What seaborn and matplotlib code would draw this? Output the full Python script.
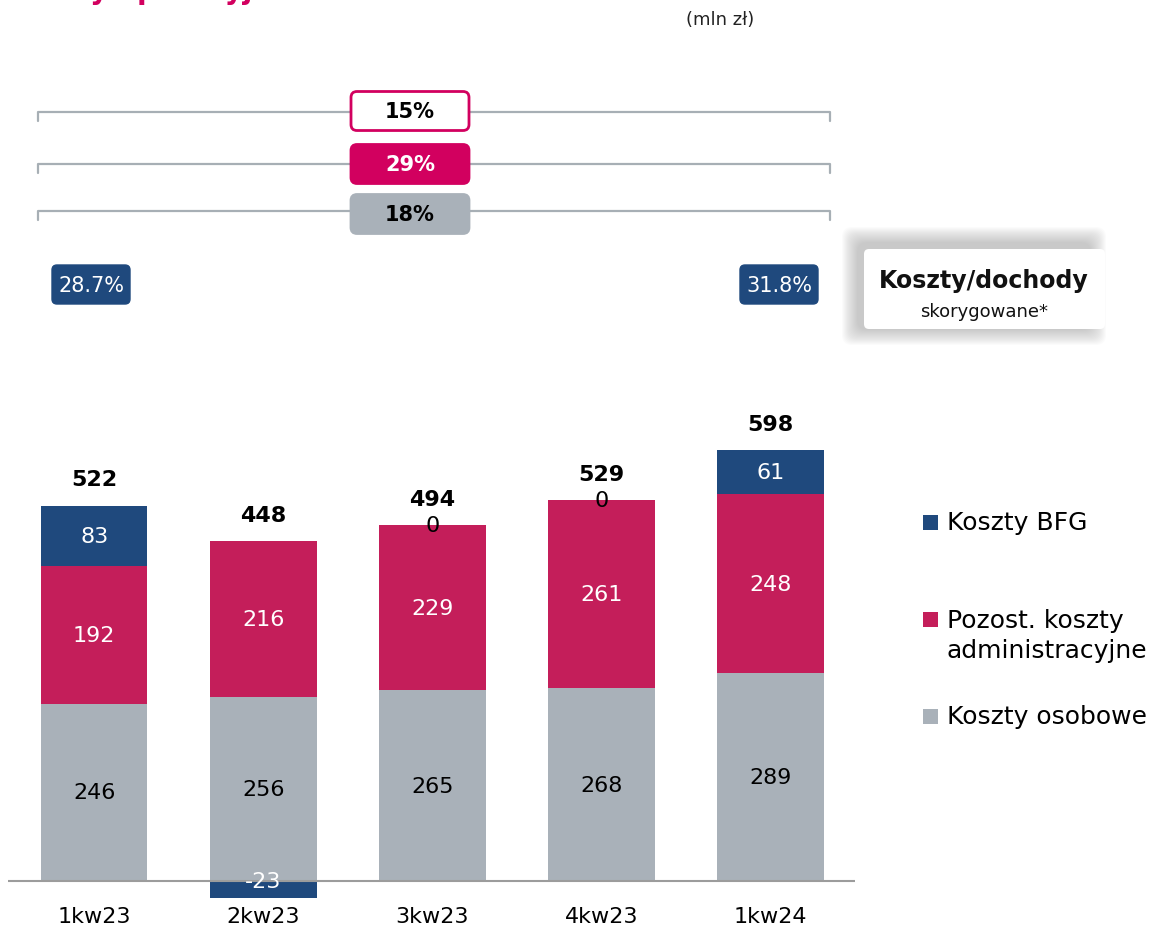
import matplotlib
matplotlib.use("Agg")
import matplotlib.pyplot as plt
import seaborn as sns
import pandas as pd
from matplotlib.patches import FancyBboxPatch, Rectangle

# data (mln zł)
quarters = ["1kw23", "2kw23", "3kw23", "4kw23", "1kw24"]
osobowe = [246, 256, 265, 268, 289]
admin = [192, 216, 229, 261, 248]
bfg = [83, -23, 0, 0, 61]
totals = [522, 448, 494, 529, 598]

dynamics = ["15%", "29%", "18%"]
cost_income = ["28.7%", "31.8%"]
legend_labels = ["Koszty BFG", "Pozost. koszty\nadministracyjne", "Koszty osobowe"]

BLUE = "#1f497d"
PINK = "#c41e5a"
GRAY = "#a9b1b9"
MAGENTA = "#d2005f"
LINE = "#a7afb5"

sns.set_theme(style="white")
plt.rcParams["font.family"] = ["DejaVu Sans"]

W, H = 1163, 928
fig = plt.figure(figsize=(W / 100, H / 100), dpi=100)
ax = fig.add_axes([8 / W, 28 / H, 847 / W, 486 / H])

df = pd.DataFrame({"kwartal": quarters, "osobowe": osobowe, "admin": admin, "bfg": bfg})
df["admin_bottom"] = df["osobowe"]
df["bfg_bottom"] = [o + a if b >= 0 else 0 for o, a, b in zip(osobowe, admin, bfg)]

common = dict(x="kwartal", width=0.63, saturation=1, errorbar=None, linewidth=0, ax=ax)
sns.barplot(data=df, y="osobowe", color=GRAY, **common)
sns.barplot(data=df, y="admin", bottom=df["admin_bottom"], color=PINK, **common)
sns.barplot(data=df, y="bfg", bottom=df["bfg_bottom"], color=BLUE, **common)

ax.set_xlim(-0.51, 4.50)
ax.set_ylim(-25, 650)
ax.axhline(0, color="#9c9c9c", lw=1.5, zorder=4)
for s in ax.spines.values():
    s.set_visible(False)
ax.set_yticks([])
ax.set_xlabel("")
ax.set_ylabel("")
ax.tick_params(axis="x", length=0, pad=5, labelsize=16, colors="black")

# segment labels
for i in range(len(quarters)):
    ax.text(i, osobowe[i] / 2, str(osobowe[i]), ha="center", va="center",
            fontsize=16, color="black", zorder=5)
    ax.text(i, osobowe[i] + admin[i] / 2, str(admin[i]), ha="center", va="center",
            fontsize=16, color="white", zorder=5)
    yb = df["bfg_bottom"][i] + bfg[i] / 2
    if bfg[i] < 0:
        yb = 0
    ax.text(i, yb, str(bfg[i]), ha="center", va="center", fontsize=16,
            color="black" if bfg[i] == 0 else "white", zorder=5)
    top = osobowe[i] + admin[i] + max(bfg[i], 0)
    ax.annotate(str(totals[i]), (i, top), xytext=(0, 19), textcoords="offset points",
                ha="center", va="center", fontsize=16, fontweight="bold", color="black")

# overlay in pixel coordinates for the header decorations
ov = fig.add_axes([0, 0, 1, 1], zorder=-1)
ov.set_xlim(0, W)
ov.set_ylim(H, 0)
ov.set_axis_off()

ov.text(4, -1, "Koszty operacyjne", fontsize=20, fontweight="bold", color=MAGENTA,
        ha="left", va="baseline")
ov.text(720, 20, "(mln zł)", fontsize=13, color="#222222", ha="center", va="center")

# dynamics brackets
box_styles = [("white", MAGENTA, "black"), (MAGENTA, MAGENTA, "white"), (GRAY, GRAY, "black")]
for txt, yl, yc, (fc, ec, tc) in zip(dynamics, [113, 165, 212], [112, 165, 215], box_styles):
    ov.plot([38, 38, 830, 830], [yl + 9, yl, yl, yl + 9], color=LINE, lw=1.6)
    ov.add_patch(FancyBboxPatch((351, yc - 19.5), 118, 39,
                                boxstyle="round,pad=0,rounding_size=6",
                                fc=fc, ec=ec, lw=2, zorder=3))
    ov.text(410, yc, txt, ha="center", va="center", fontsize=15, fontweight="bold",
            color=tc, zorder=4)

# cost/income ratio
for txt, x0 in zip(cost_income, [52, 740]):
    ov.add_patch(FancyBboxPatch((x0, 266), 78, 39, boxstyle="round,pad=0,rounding_size=5",
                                fc=BLUE, ec=BLUE, lw=1, zorder=3))
    ov.text(x0 + 39, 286, txt, ha="center", va="center", fontsize=15, color="white", zorder=4)

# soft shadow towards the upper left
for k in range(16, 0, -1):
    ov.add_patch(FancyBboxPatch((858 - k, 244 - k), 232 + 2 * k, 86 + 2 * k,
                                boxstyle="round,pad=0,rounding_size=10",
                                fc="#8a8a8a", ec="none", alpha=0.03, zorder=2))
ov.add_patch(FancyBboxPatch((864, 250), 241, 80, boxstyle="round,pad=0,rounding_size=5",
                            fc="white", ec="none", zorder=3))
ov.text(984, 281, "Koszty/dochody", ha="center", va="center", fontsize=17,
        fontweight="bold", color="#111111", zorder=4)
ov.text(984, 312, "skorygowane*", ha="center", va="center", fontsize=13,
        color="#111111", zorder=4)

# legend
for lab, y, c in zip(legend_labels, [523, 620, 717], [BLUE, PINK, GRAY]):
    ov.add_patch(Rectangle((923, y - 7.5), 15, 15, fc=c, ec="none"))
    if "\n" in lab:
        ov.text(947, y + 16, lab, ha="left", va="center", fontsize=18, linespacing=1.35,
                color="black")
    else:
        ov.text(947, y, lab, ha="left", va="center", fontsize=18, color="black")

fig.savefig("out.png", dpi=100)
